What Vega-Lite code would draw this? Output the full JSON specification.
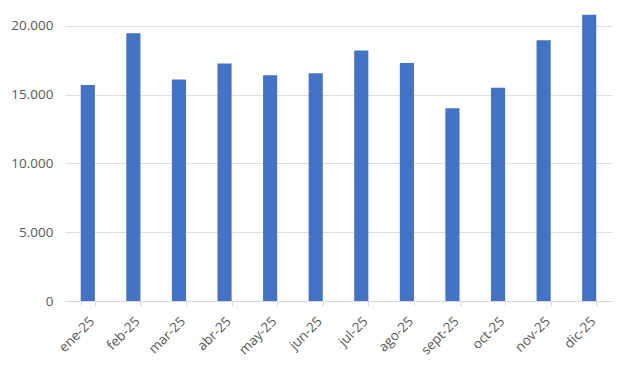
{
  "$schema": "https://vega.github.io/schema/vega-lite/v6.json",
  "autosize": "none",
  "padding": {"left": 65, "top": 12, "right": 10, "bottom": 69},
  "width": 547,
  "height": 289,
  "background": "white",
  "data": {
    "values": [
      {"mes": "ene-25", "valor": 15700},
      {"mes": "feb-25", "valor": 19450},
      {"mes": "mar-25", "valor": 16100},
      {"mes": "abr-25", "valor": 17250},
      {"mes": "may-25", "valor": 16400},
      {"mes": "jun-25", "valor": 16550},
      {"mes": "jul-25", "valor": 18200},
      {"mes": "ago-25", "valor": 17300},
      {"mes": "sept-25", "valor": 14000},
      {"mes": "oct-25", "valor": 15500},
      {"mes": "nov-25", "valor": 18950},
      {"mes": "dic-25", "valor": 20800}
    ]
  },
  "mark": {"type": "bar", "color": "#4472C4"},
  "encoding": {
    "x": {
      "field": "mes",
      "type": "nominal",
      "sort": null,
      "title": null,
      "scale": {"paddingInner": 0.69, "paddingOuter": 0.345},
      "axis": {
        "labelAngle": -45,
        "labelAlign": "right",
        "labelBaseline": "middle",
        "labelFont": "Open Sans",
        "labelFontSize": 13.5,
        "labelColor": "#595959",
        "labelPadding": 13,
        "labelOffset": 4,
        "domainColor": "#d9d9d9",
        "tickColor": "#d9d9d9",
        "tickBand": "extent",
        "tickSize": 5,
        "grid": false
      }
    },
    "y": {
      "field": "valor",
      "type": "quantitative",
      "title": null,
      "scale": {"domain": [0, 21000], "nice": false},
      "axis": {
        "values": [0, 5000, 10000, 15000, 20000],
        "labelExpr": "replace(format(datum.value, ','), ',', '.')",
        "labelFont": "Open Sans",
        "labelFontSize": 13.5,
        "labelColor": "#595959",
        "labelPadding": 12,
        "domain": false,
        "ticks": false,
        "gridColor": "#dedede",
        "gridWidth": 1
      }
    }
  },
  "config": {"view": {"stroke": null}}
}
